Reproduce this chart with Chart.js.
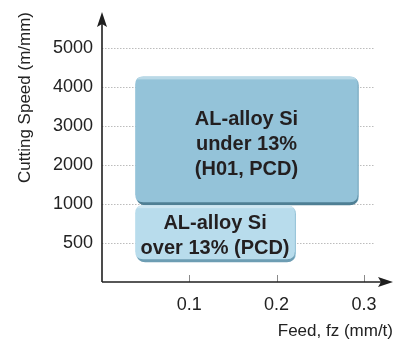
<!DOCTYPE html>
<html><head><meta charset="utf-8">
<script src="https://cdn.jsdelivr.net/npm/chart.js@4/dist/chart.umd.min.js"></script>
<style>html,body{margin:0;padding:0;background:#fff}</style>
</head><body>
<canvas id="c" width="394" height="345"></canvas>
<script>
// ---- data ----
const speedLabels = ['500', '1000', '2000', '3000', '4000', '5000'];   // y tick labels (evenly spaced)
const feedTicks = [0.1, 0.2, 0.3];                                       // x tick values (mm/t)
const boxLines = [
  ['AL-alloy Si', 'under 13%', '(H01, PCD)'],
  ['AL-alloy Si', 'over 13% (PCD)']
];
const boxFeedStart = [0.038, 0.038];      // feed where each region starts
const boxFeedEnd = [0.293, 0.221];        // feed where each region ends
const boxSpeedTop = [4.27, 0.97];         // top of region on speed tick-index axis
const boxSpeedBottom = [1.02, -0.44];     // bottom of region on speed tick-index axis
const gridFeedEnd = 0.312;                // dotted gridlines extent

const FAM = '"Liberation Sans", Arial, Helvetica, sans-serif';
const boxStyle = [
  {fill: '#94c3d9', top: '#bad9e7', shadow: '#4f7f94', edge: '#7eadc3', dy: 5},
  {fill: '#b8dcec', top: '#cfe7f2', shadow: '#6d9db3', edge: '#95c3d8', dy: 3}
];

function rr(ctx, x, y, w, h, r) {
  ctx.beginPath();
  ctx.moveTo(x + r, y);
  ctx.lineTo(x + w - r, y);
  ctx.quadraticCurveTo(x + w, y, x + w, y + r);
  ctx.lineTo(x + w, y + h - r);
  ctx.quadraticCurveTo(x + w, y + h, x + w - r, y + h);
  ctx.lineTo(x + r, y + h);
  ctx.quadraticCurveTo(x, y + h, x, y + h - r);
  ctx.lineTo(x, y + r);
  ctx.quadraticCurveTo(x, y, x + r, y);
  ctx.closePath();
}

const drawPlugin = {
  id: 'drawPlugin',
  beforeDatasetsDraw(chart) {
    const ctx = chart.ctx;
    const xs = chart.scales.x, ys = chart.scales.y;
    const x0 = xs.getPixelForValue(0);
    const y0 = ys.getPixelForValue(-1);
    ctx.save();
    // gridlines
    ctx.strokeStyle = '#bcbcbc';
    ctx.lineWidth = 1;
    ctx.setLineDash([1.5, 1.5]);
    const gx = xs.getPixelForValue(gridFeedEnd);
    speedLabels.forEach((l, i) => {
      const y = Math.round(ys.getPixelForValue(i)) + 0.5;
      ctx.beginPath(); ctx.moveTo(x0, y); ctx.lineTo(gx, y); ctx.stroke();
    });
    ctx.setLineDash([]);
    // x tick marks
    ctx.strokeStyle = '#8a8a8a';
    feedTicks.forEach(v => {
      const x = Math.round(xs.getPixelForValue(v)) + 0.5;
      ctx.beginPath(); ctx.moveTo(x, y0 - 7); ctx.lineTo(x, y0); ctx.stroke();
    });
    // boxes
    boxLines.forEach((lines, i) => {
      const st = boxStyle[i];
      const l = xs.getPixelForValue(boxFeedStart[i]);
      const r = xs.getPixelForValue(boxFeedEnd[i]);
      const t = ys.getPixelForValue(boxSpeedTop[i]);
      const b = ys.getPixelForValue(boxSpeedBottom[i]);
      const w = r - l, h = b - t, rad = 8;
      ctx.fillStyle = st.edge;
      rr(ctx, l + 1, t + 1, w, h, rad); ctx.fill();
      ctx.fillStyle = st.shadow;
      rr(ctx, l + 2, t + 2, w - 2, h, rad); ctx.fill();
      ctx.fillStyle = st.fill;
      rr(ctx, l, t, w, h - 1, rad); ctx.fill();
      ctx.save();
      rr(ctx, l, t, w, h - 1, rad); ctx.clip();
      ctx.fillStyle = st.top;
      ctx.fillRect(l, t, w, 3);
      ctx.restore();
      ctx.fillStyle = '#231f20';
      ctx.font = 'bold 20px ' + FAM;
      ctx.textAlign = 'center';
      ctx.textBaseline = 'middle';
      const lh = 25;
      const cx = (l + r) / 2;
      const cy = (t + b) / 2 + st.dy;
      lines.forEach((s, k) => {
        ctx.fillText(s, cx, cy + (k - (lines.length - 1) / 2) * lh);
      });
    });
    // axes with arrows
    ctx.strokeStyle = '#1f1f1f';
    ctx.fillStyle = '#1f1f1f';
    ctx.lineWidth = 1.6;
    const topY = chart.chartArea.top;
    const rightX = chart.chartArea.right;
    ctx.beginPath(); ctx.moveTo(x0, y0); ctx.lineTo(x0, topY + 10); ctx.stroke();
    ctx.beginPath(); ctx.moveTo(x0, y0); ctx.lineTo(rightX - 10, y0); ctx.stroke();
    ctx.beginPath();
    ctx.moveTo(x0, topY); ctx.lineTo(x0 - 5, topY + 15); ctx.lineTo(x0, topY + 12); ctx.lineTo(x0 + 5, topY + 15);
    ctx.closePath(); ctx.fill();
    ctx.beginPath();
    ctx.moveTo(rightX, y0); ctx.lineTo(rightX - 15, y0 - 5); ctx.lineTo(rightX - 12, y0); ctx.lineTo(rightX - 15, y0 + 5);
    ctx.closePath(); ctx.fill();
    ctx.restore();
  }
};

new Chart(document.getElementById('c'), {
  type: 'scatter',
  data: {datasets: [{data: [], showLine: false}]},
  options: {
    responsive: false,
    animation: false,
    devicePixelRatio: 1,
    layout: {padding: {top: 12, right: 1, left: 0, bottom: 0}},
    plugins: {legend: {display: false}, tooltip: {enabled: false}},
    scales: {
      x: {
        type: 'linear', min: 0, max: 0.3333,
        grid: {display: false, drawTicks: false},
        border: {display: false},
        afterBuildTicks: s => { s.ticks = feedTicks.map(v => ({value: v})); },
        afterFit: s => { s.height = 63; s.paddingLeft = 0; s.paddingRight = 0; },
        ticks: {padding: 12, color: '#222', font: {size: 18, family: FAM}, callback: v => String(v), maxRotation: 0},
        title: {display: true, text: 'Feed, fz (mm/t)', align: 'end', color: '#222',
                font: {size: 17, family: FAM}, padding: {top: 0, bottom: 3}}
      },
      y: {
        type: 'linear', min: -1, max: 5.92,
        grid: {display: false, drawTicks: false},
        border: {display: false},
        afterBuildTicks: s => { s.ticks = speedLabels.map((l, i) => ({value: i})); },
        afterFit: s => { s.width = 102; s.paddingTop = 0; s.paddingBottom = 0; },
        ticks: {padding: 9, color: '#222', font: {size: 18, family: FAM},
                callback: (v, i) => speedLabels[i]},
        title: {display: true, text: 'Cutting Speed (m/mm)', align: 'end', color: '#222',
                font: {size: 17, family: FAM}, padding: {top: 15, bottom: 0}}
      }
    }
  },
  plugins: [drawPlugin]
});
</script>
</body></html>
